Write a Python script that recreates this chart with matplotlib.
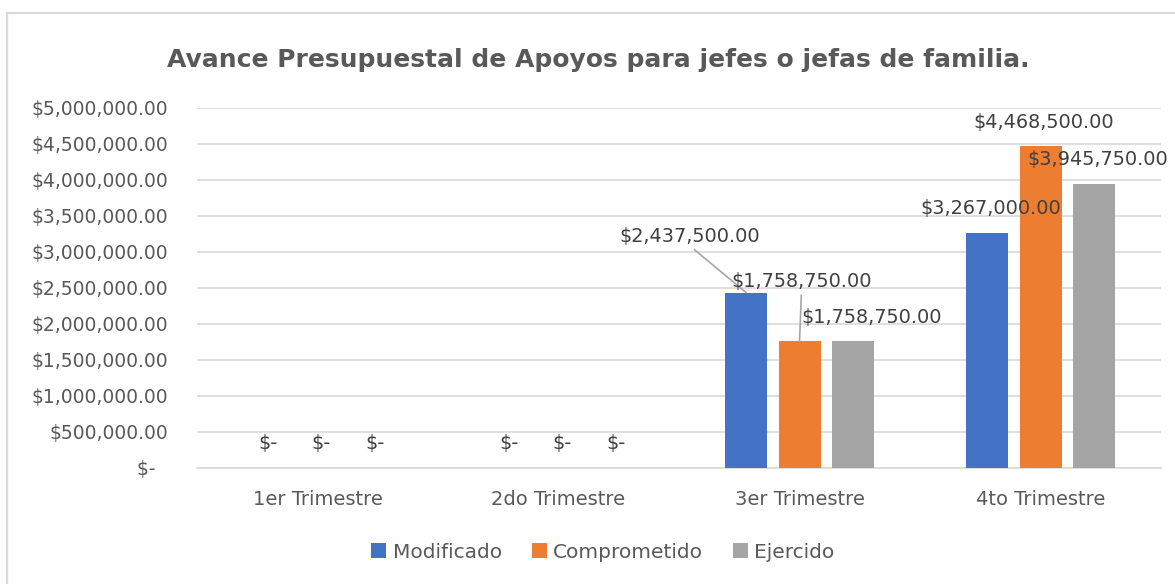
import matplotlib
matplotlib.use('Agg')
import matplotlib.pyplot as plt
import matplotlib.patches as mpatches
import numpy as np

# data
trimestres = ['1er Trimestre', '2do Trimestre', '3er Trimestre', '4to Trimestre']
series = ['Modificado', 'Comprometido', 'Ejercido']
modificado = [0, 0, 2437500, 3267000]
comprometido = [0, 0, 1758750, 4468500]
ejercido = [0, 0, 1758750, 3945750]
colors = ['#4472C4', '#ED7D31', '#A5A5A5']

plt.rcParams['font.family'] = ['DejaVu Sans']
fs = 13.5
txt = '#595959'
lbl = '#404040'
grid = '#d9d9d9'

fig = plt.figure(figsize=(11.75, 5.84), dpi=100)
W, H = 1175, 584
ax = fig.add_axes([197 / W, 1 - 468 / H, (1161 - 197) / W, (468 - 108) / H])

# chart frame
fig.add_artist(mpatches.Rectangle((6.5 / W, -0.1), 1.2, 1.1 - 13.5 / H, transform=fig.transFigure,
                                  facecolor='none', edgecolor=grid, linewidth=1.6))

x = np.arange(len(trimestres))
bw = 42 / 241
step = 53.5 / 241
values = [modificado, comprometido, ejercido]


def money(v):
    return '$-' if v == 0 else '${:,.2f}'.format(v)


# label offsets in pixels (dx, dy) per series per quarter, and whether to draw a leader line
offsets = {
    (0, 2): (-56, 56, True),
    (1, 2): (2, 60, True),
    (2, 2): (19, 24, False),
}

for i, (name, vals) in enumerate(zip(series, values)):
    xs = x + (i - 1) * step
    ax.bar(xs, vals, width=bw, color=colors[i], label=name, zorder=3)
    for j, v in enumerate(vals):
        dx, dy, line = offsets.get((i, j), (3.5, 24, False))
        if v == 0:
            dx = 4
        kw = {}
        if line:
            kw['arrowprops'] = dict(arrowstyle='-', color='#a6a6a6', lw=1.2, shrinkA=1, shrinkB=0,
                                    relpos=(0.5, 0))
        ax.annotate(money(v), xy=(xs[j], v), xytext=(dx, dy), textcoords='offset pixels',
                    ha='center', va='center', fontsize=13.9, color=lbl, zorder=5, **kw)

ax.set_xlim(-0.5, 3.5)
ax.set_ylim(0, 5000000)
yt = np.arange(0, 5000001, 500000)
ax.set_yticks(yt)
ax.set_yticklabels(['$-  ' if v == 0 else '${:,.2f}'.format(v) for v in yt])
ax.set_xticks(x)
ax.set_xticklabels(trimestres)
ax.tick_params(axis='y', length=0, pad=21, labelsize=fs, labelcolor=txt)
ax.tick_params(axis='x', length=0, pad=16, labelsize=14, labelcolor=txt)
ax.grid(axis='y', color=grid, linewidth=1.2, zorder=0)
ax.set_axisbelow(True)
for s in ['top', 'right', 'left']:
    ax.spines[s].set_visible(False)
ax.spines['bottom'].set_color(grid)
ax.spines['bottom'].set_linewidth(1.2)

fig.text(598 / W, 1 - 60 / H, 'Avance Presupuestal de Apoyos para jefes o jefas de familia.',
         ha='center', va='center', fontsize=18, fontweight='bold', color=txt)

leg = fig.legend(handles=[mpatches.Rectangle((0, 0), 1, 1, facecolor=c) for c in colors], labels=series,
                 loc='center', bbox_to_anchor=(603 / W, 1 - 552 / H), ncol=3, frameon=False,
                 fontsize=14.5, handlelength=0.75, handleheight=0.75, handletextpad=0.3,
                 columnspacing=1.5, labelcolor=txt)

fig.savefig('out.png', dpi=100)
